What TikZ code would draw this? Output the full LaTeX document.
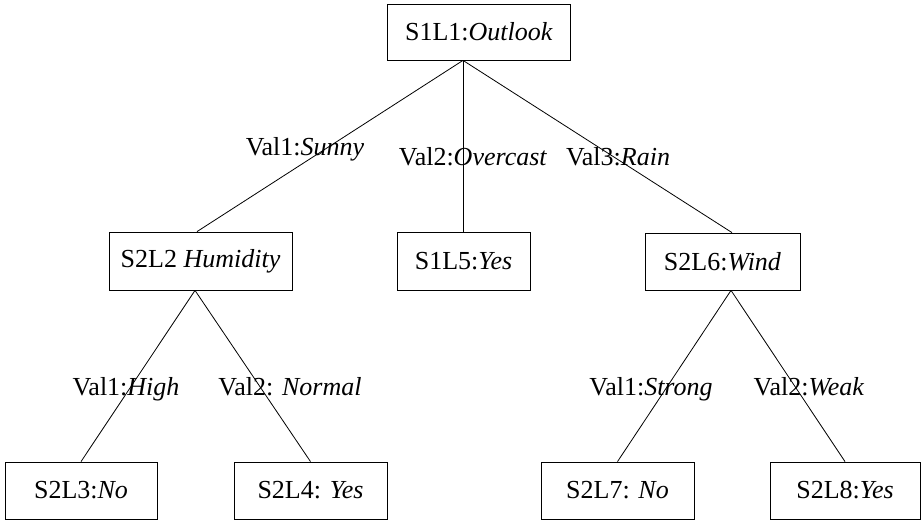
\documentclass[tikz,border=0pt]{standalone}
\usepackage{fontspec}
\setmainfont{Liberation Serif}
\begin{document}
\begin{tikzpicture}[x=1pt,y=-1pt,
  box/.style={draw,line width=0.8pt,inner sep=0pt,minimum height=57pt,font=\fontsize{26}{30}\selectfont},
  edge/.style={line width=0.8pt},
  lbl/.style={anchor=base,inner sep=0pt,font=\fontsize{26}{30}\selectfont}]
\useasboundingbox (0,0) rectangle (924,522);
\node[box,minimum width=183pt,minimum height=56pt] (root) at (479,32) {S1L1:\textit{Outlook}};
\node[box,minimum width=183pt,minimum height=58pt] (hum) at (200.5,261) {S2L2 \textit{Humidity}};
\node[box,minimum width=133pt,minimum height=58pt] (yes5) at (463.5,261) {S1L5:\textit{Yes}};
\node[box,minimum width=155pt,minimum height=57pt] (wind) at (722.5,261.5) {S2L6:\textit{Wind}};
\node[box,minimum width=152pt] (no3) at (81,490.5) {S2L3:\textit{No}};
\node[box,minimum width=153pt] (yes4) at (310.5,490.5) {S2L4: \textit{Yes}};
\node[box,minimum width=153pt] (no7) at (617.5,490.5) {S2L7: \textit{No}};
\node[box,minimum width=150pt] (yes8) at (845,490.5) {S2L8:\textit{Yes}};
\coordinate (rb) at ([xshift=-16pt]root.south);
\coordinate (ht) at ([xshift=-3.5pt]hum.north);
\coordinate (hb) at ([xshift=-5.5pt]hum.south);
\coordinate (wt) at ([xshift=9.5pt]wind.north);
\coordinate (wb) at ([xshift=8.5pt]wind.south);
\draw[edge] (rb) -- (ht);
\draw[edge] (rb) -- (yes5.north -| rb);
\draw[edge] (rb) -- (wt);
\draw[edge] (hb) -- (no3.north);
\draw[edge] (hb) -- (yes4.north);
\draw[edge] (wb) -- (no7.north);
\draw[edge] (wb) -- (yes8.north);
\node[lbl] (l1) at (305,155) {Val1:\textit{Sunny}};
\node[lbl] (l2) at (473,165) {Val2:\textit{Overcast}};
\node[lbl] (l3) at (618,165) {Val3:\textit{Rain}};
\node[lbl] (l4) at (126,395) {Val1:\textit{High}};
\node[lbl] (l5) at (290,395) {Val2: \textit{Normal}};
\node[lbl] (l6) at (651,395) {Val1:\textit{Strong}};
\node[lbl] (l7) at (809,395) {Val2:\textit{Weak}};
\end{tikzpicture}
\end{document}
